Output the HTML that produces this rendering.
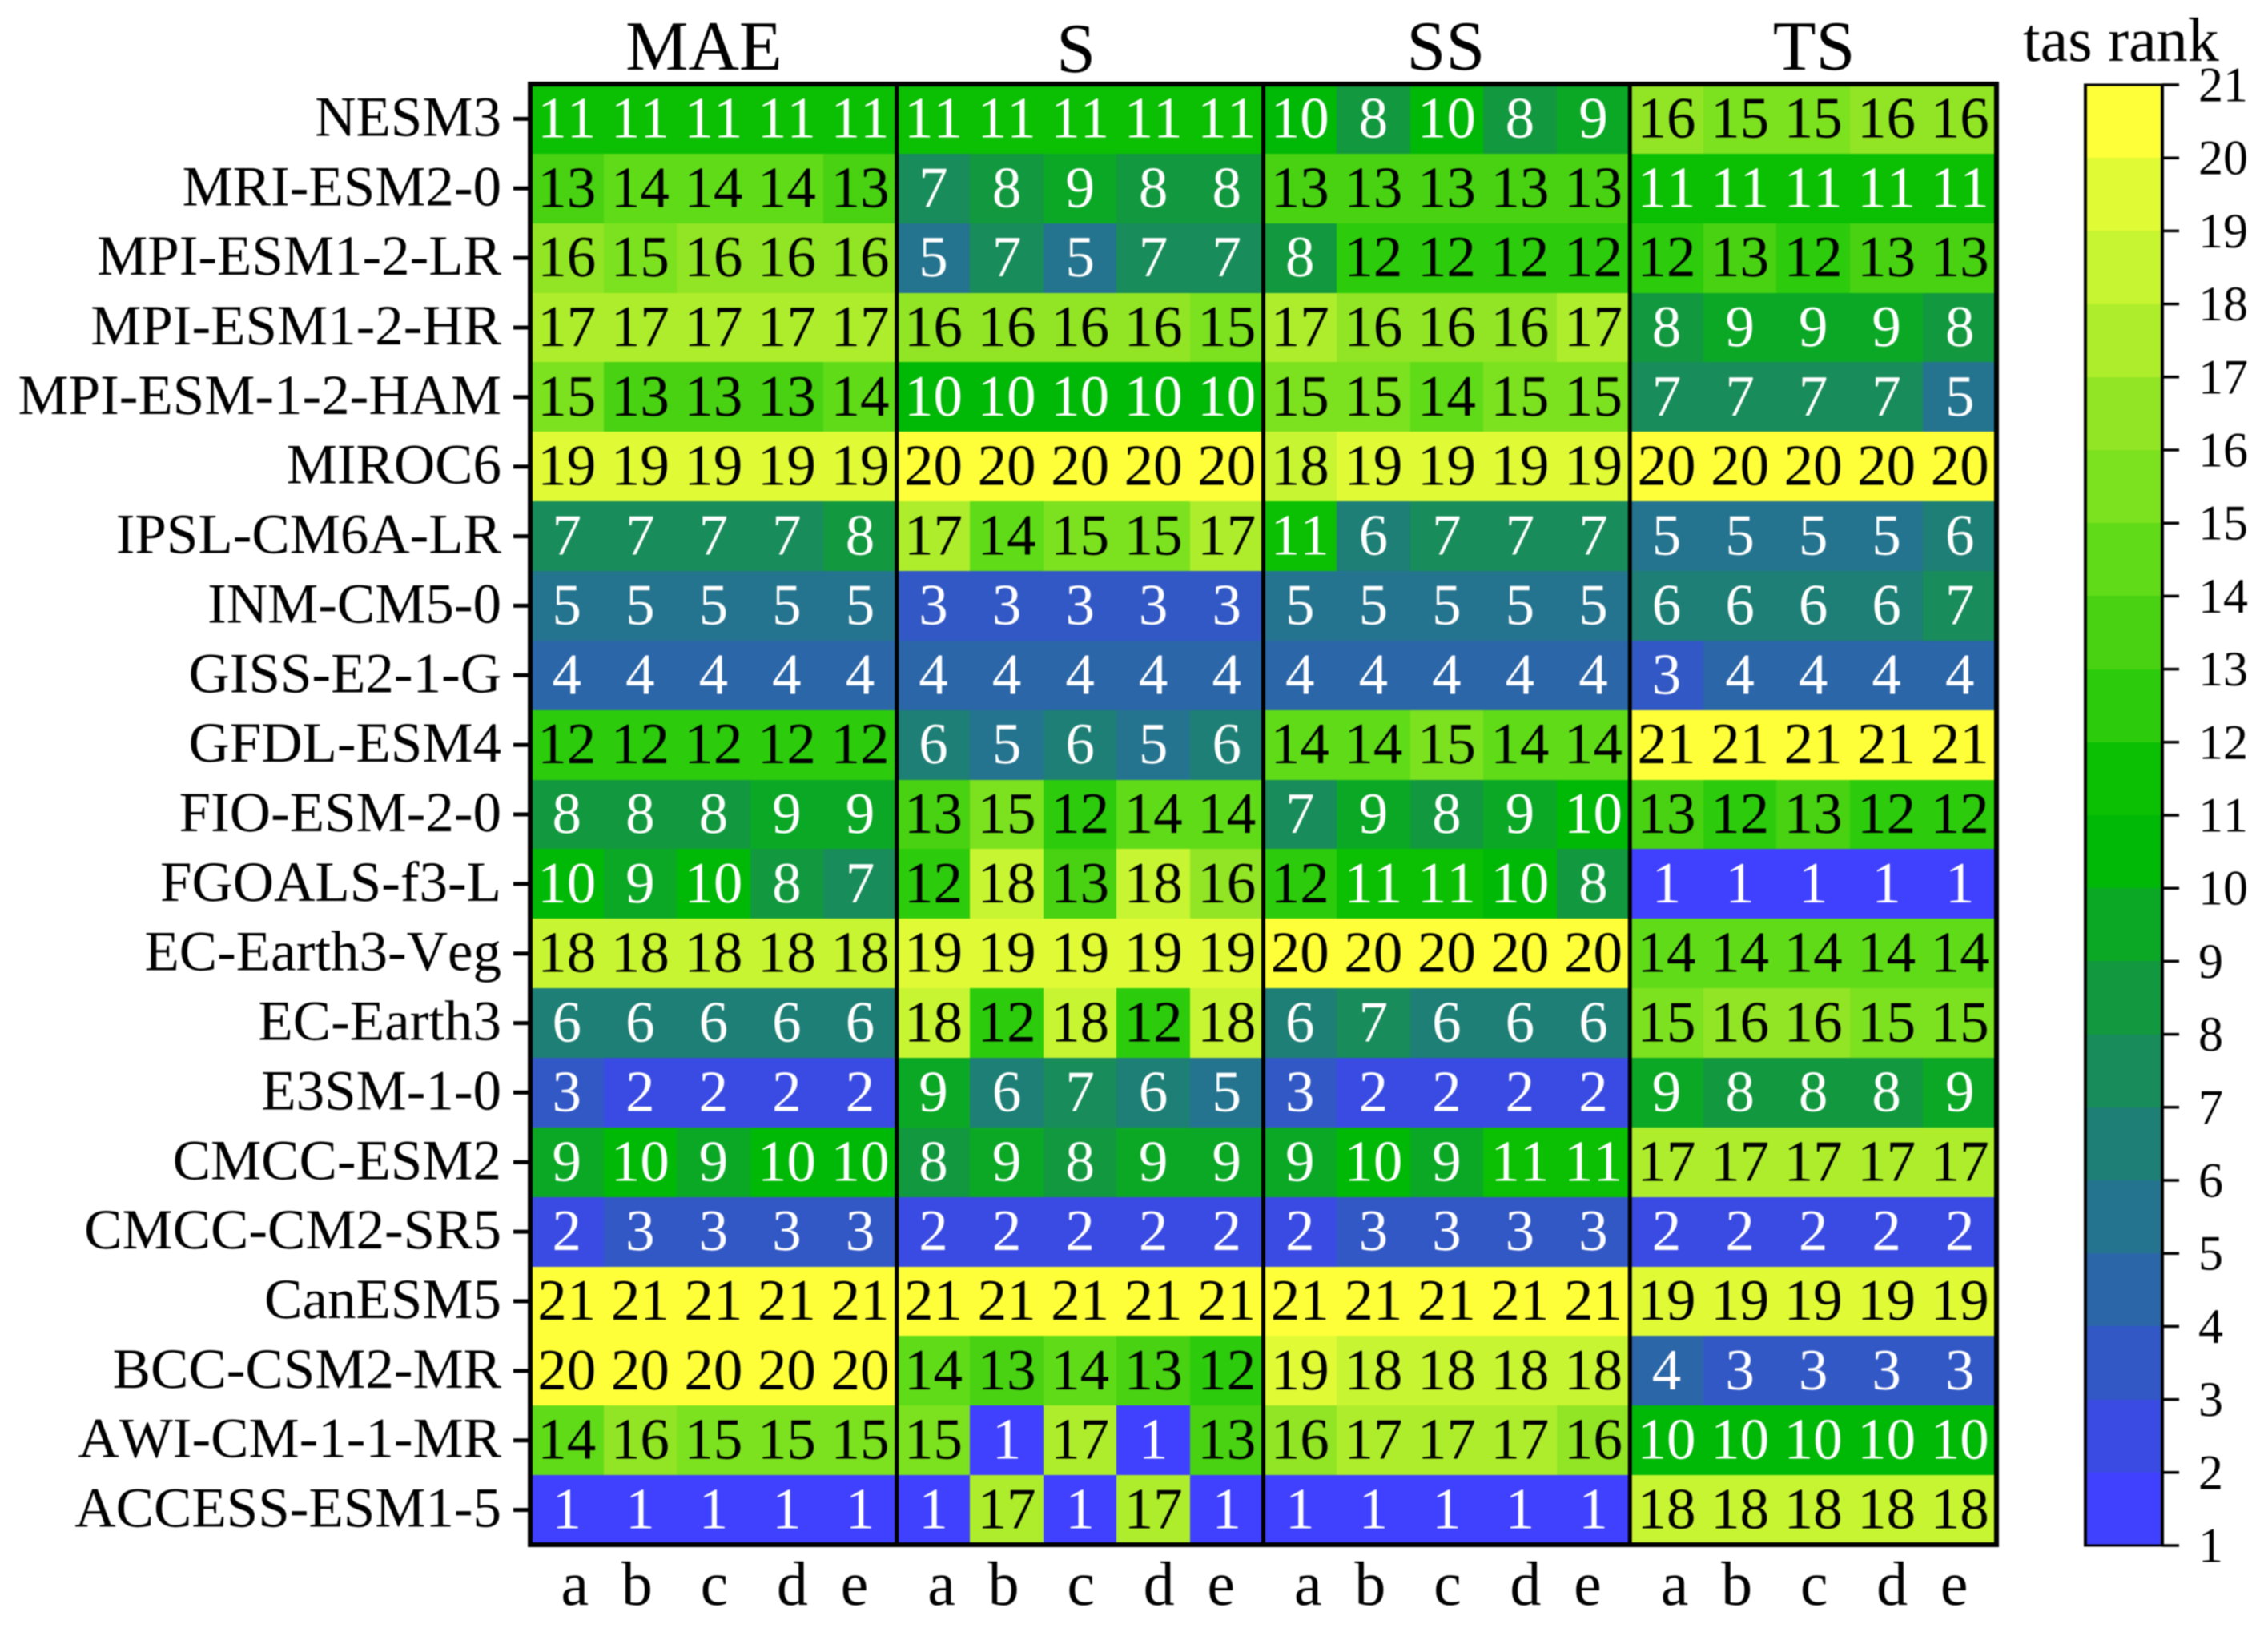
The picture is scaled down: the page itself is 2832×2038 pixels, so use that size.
<!DOCTYPE html>
<html lang="en">
<head>
<meta charset="utf-8">
<title>tas rank heatmap</title>
<style>
  html, body { margin: 0; padding: 0; background: #fff; }
  #chart { display: block; width: 2832px; height: 2038px; font-family: "Liberation Serif", serif; font-kerning: none; text-rendering: geometricPrecision; filter: blur(0.7px); }
</style>
</head>
<body>
<svg id="chart" xmlns="http://www.w3.org/2000/svg" width="2832" height="2038" viewBox="0 0 2832 2038"></svg>
<script>
const models = ["NESM3","MRI-ESM2-0","MPI-ESM1-2-LR","MPI-ESM1-2-HR","MPI-ESM-1-2-HAM","MIROC6","IPSL-CM6A-LR","INM-CM5-0","GISS-E2-1-G","GFDL-ESM4","FIO-ESM-2-0","FGOALS-f3-L","EC-Earth3-Veg","EC-Earth3","E3SM-1-0","CMCC-ESM2","CMCC-CM2-SR5","CanESM5","BCC-CSM2-MR","AWI-CM-1-1-MR","ACCESS-ESM1-5"];
const metrics = ["MAE","S","SS","TS"];
const variants = ["a","b","c","d","e"];
const colorbarTicks = [1,2,3,4,5,6,7,8,9,10,11,12,13,14,15,16,17,18,19,20,21];
const maeRanks = [
  [11,11,11,11,11],[13,14,14,14,13],[16,15,16,16,16],[17,17,17,17,17],[15,13,13,13,14],
  [19,19,19,19,19],[7,7,7,7,8],[5,5,5,5,5],[4,4,4,4,4],[12,12,12,12,12],
  [8,8,8,9,9],[10,9,10,8,7],[18,18,18,18,18],[6,6,6,6,6],[3,2,2,2,2],
  [9,10,9,10,10],[2,3,3,3,3],[21,21,21,21,21],[20,20,20,20,20],[14,16,15,15,15],[1,1,1,1,1]
];
const sRanks = [
  [11,11,11,11,11],[7,8,9,8,8],[5,7,5,7,7],[16,16,16,16,15],[10,10,10,10,10],
  [20,20,20,20,20],[17,14,15,15,17],[3,3,3,3,3],[4,4,4,4,4],[6,5,6,5,6],
  [13,15,12,14,14],[12,18,13,18,16],[19,19,19,19,19],[18,12,18,12,18],[9,6,7,6,5],
  [8,9,8,9,9],[2,2,2,2,2],[21,21,21,21,21],[14,13,14,13,12],[15,1,17,1,13],[1,17,1,17,1]
];
const ssRanks = [
  [10,8,10,8,9],[13,13,13,13,13],[8,12,12,12,12],[17,16,16,16,17],[15,15,14,15,15],
  [18,19,19,19,19],[11,6,7,7,7],[5,5,5,5,5],[4,4,4,4,4],[14,14,15,14,14],
  [7,9,8,9,10],[12,11,11,10,8],[20,20,20,20,20],[6,7,6,6,6],[3,2,2,2,2],
  [9,10,9,11,11],[2,3,3,3,3],[21,21,21,21,21],[19,18,18,18,18],[16,17,17,17,16],[1,1,1,1,1]
];
const tsRanks = [
  [16,15,15,16,16],[11,11,11,11,11],[12,13,12,13,13],[8,9,9,9,8],[7,7,7,7,5],
  [20,20,20,20,20],[5,5,5,5,6],[6,6,6,6,7],[3,4,4,4,4],[21,21,21,21,21],
  [13,12,13,12,12],[1,1,1,1,1],[14,14,14,14,14],[15,16,16,15,15],[9,8,8,8,9],
  [17,17,17,17,17],[2,2,2,2,2],[19,19,19,19,19],[4,3,3,3,3],[10,10,10,10,10],[18,18,18,18,18]
];
const palette = ["#4040ff","#3a4be3","#3258c6","#2b66a8","#25748f","#1d7f75","#188c5a","#12983e","#0ba826","#00b806","#0bbf03","#2ccb0c","#48d212","#60db18","#7ce11e","#92e524","#aeed2c","#c8f532","#e0fa36","#ffff39"];

const NS = "http://www.w3.org/2000/svg";
const svg = document.getElementById("chart");
const metricRanks = [maeRanks, sRanks, ssRanks, tsRanks];

const plotLeft = 662, plotRight = 2493, plotTop = 105, plotBottom = 1929;
const cbarLeft = 2604, cbarRight = 2700, cbarTop = 106, cbarBottom = 1930;
const columnCount = metrics.length * variants.length;
const cellW = (plotRight - plotLeft) / columnCount;
const cellH = (plotBottom - plotTop) / models.length;

function xCell(col) { return plotLeft + col * cellW; }
function yRow(row) { return plotTop + row * cellH; }
function colorOf(rank) { return palette[Math.min(rank, palette.length) - 1]; }
function textColorOf(rank) { return rank <= 11 ? "#ffffff" : "#000000"; }
function yCbar(value) {
  const lo = colorbarTicks[0], hi = colorbarTicks[colorbarTicks.length - 1];
  return cbarBottom - (value - lo) / (hi - lo) * (cbarBottom - cbarTop);
}
function variantNudge(letter) { return { a: 10, b: -4, c: 1, d: 7, e: -7 }[letter]; }
function titleNudge(metric) { return { MAE: -12, S: -5, SS: -1, TS: 1 }[metric]; }
function titleDrop(metric) { return metric === "S" ? 3 : 0; }

function make(tag, attrs, parent, text) {
  const el = document.createElementNS(NS, tag);
  for (const k in attrs) el.setAttribute(k, attrs[k]);
  if (text !== undefined) el.textContent = text;
  (parent || svg).appendChild(el);
  return el;
}

/* heatmap cells */
const cellGroup = make("g", { "shape-rendering": "crispEdges" });


metricRanks.forEach(function (ranks, m) {
  ranks.forEach(function (row, r) {
    row.forEach(function (rank, v) {
      const col = m * variants.length + v;
      const x0 = Math.round(xCell(col)), x1 = Math.round(xCell(col + 1));
      const y0 = Math.round(yRow(r)), y1 = Math.round(yRow(r + 1));
      const cell = make("rect", { x: x0, y: y0, width: x1 - x0, height: y1 - y0, fill: colorOf(rank) }, cellGroup);
      
      
    });
  });
});

/* printed cell values */
const valueGroup = make("g", { "font-size": 73, "text-anchor": "middle" });


metricRanks.forEach(function (ranks, m) {
  ranks.forEach(function (row, r) {
    row.forEach(function (rank, v) {
      const col = m * variants.length + v;
      const label = make("text", { x: xCell(col) + cellW / 2, y: yRow(r) + cellH / 2 + 23, fill: textColorOf(rank) }, valueGroup, String(rank));
      
      
    });
  });
});

/* plot frame and panel separators */
const frame = make("rect", { x: plotLeft, y: plotTop, width: plotRight - plotLeft, height: plotBottom - plotTop, fill: "none", stroke: "#000", "stroke-width": 6 });


metrics.slice(1).forEach(function (metric, i) {
  const x = xCell((i + 1) * variants.length);
  const sep = make("line", { x1: x, x2: x, y1: plotTop, y2: plotBottom, stroke: "#000", "stroke-width": 5 });
  
  
});

/* y axis */
models.forEach(function (name, r) {
  const y = yRow(r) + cellH / 2;
  const tick = make("line", { x1: 641, x2: plotLeft, y1: y, y2: y, stroke: "#000", "stroke-width": 5 });
  
  
  const label = make("text", { x: 626, y: y + 21, "font-size": 71, "text-anchor": "end", fill: "#000" }, svg, name);
  
  
});

/* x axis variant labels and metric titles */
metrics.forEach(function (metric, m) {
  variants.forEach(function (letter, v) {
    const col = m * variants.length + v;
    const label = make("text", { x: xCell(col) + cellW / 2 + variantNudge(letter), y: 2004, "font-size": 78, "text-anchor": "middle", fill: "#000" }, svg, letter);
    
    
  });
  const center = xCell((m + 0.5) * variants.length);
  const title = make("text", { x: center + titleNudge(metric), y: 87 + titleDrop(metric), "font-size": 88, "text-anchor": "middle", fill: "#000" }, svg, metric);
  
  
});

/* colorbar */
const cbarGroup = make("g", { "shape-rendering": "crispEdges" });


colorbarTicks.slice(0, -1).forEach(function (value) {
  const y1 = Math.round(yCbar(value + 1)), y0 = Math.round(yCbar(value));
  const seg = make("rect", { x: cbarLeft, y: y1, width: cbarRight - cbarLeft, height: y0 - y1, fill: colorOf(value) }, cbarGroup);
  
  
});
const cbarLeftEdge = make("line", { x1: cbarLeft, x2: cbarLeft, y1: cbarTop - 1.5, y2: cbarBottom + 1.5, stroke: "#000", "stroke-width": 4 });


const cbarRightEdge = make("line", { x1: cbarRight, x2: cbarRight, y1: cbarTop - 1.5, y2: cbarBottom + 1.5, stroke: "#000", "stroke-width": 4 });


const cbarTopEdge = make("line", { x1: cbarLeft, x2: cbarRight, y1: cbarTop, y2: cbarTop, stroke: "#000", "stroke-width": 3 });


const cbarBottomEdge = make("line", { x1: cbarLeft, x2: cbarRight, y1: cbarBottom, y2: cbarBottom, stroke: "#000", "stroke-width": 3 });


colorbarTicks.forEach(function (value) {
  const y = yCbar(value);
  const tick = make("line", { x1: cbarRight, x2: 2721, y1: y, y2: y, stroke: "#000", "stroke-width": 3.5 });
  
  
  const label = make("text", { x: 2745, y: y + 20.5, "font-size": 62, fill: "#000" }, svg, String(value));
  
  
});
const cbarTitle = make("text", { x: 2526, y: 76, "font-size": 78, fill: "#000" }, svg, "tas rank");


</script>
</body>
</html>
